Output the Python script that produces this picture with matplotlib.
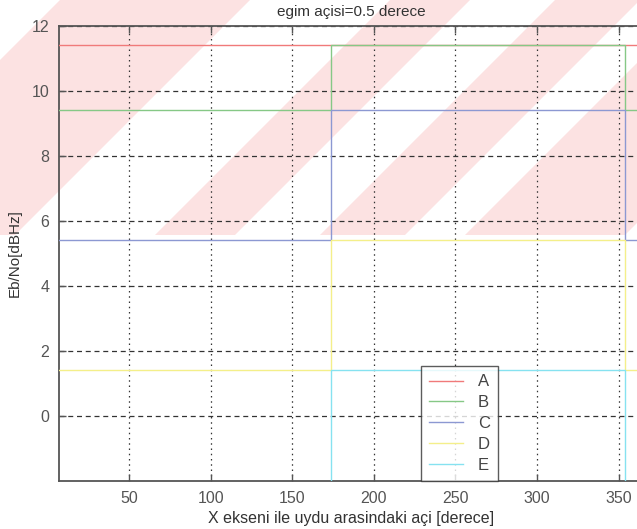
import matplotlib
matplotlib.use("Agg")
import matplotlib.pyplot as plt
from matplotlib.patches import Polygon, Rectangle

plt.rcParams['font.family'] = ['Liberation Sans', 'DejaVu Sans']

# Satellite angle ranges (degrees) where the level changes
x_first = 7.0
step_up = 173.6
step_down = 353.9
x_last = 365.0

series_names = ["A", "B", "C", "D", "E"]
level_outside = [11.43, 9.43, 5.43, 1.43, -2.57]   # Eb/No outside the step window
level_inside = [11.43, 11.43, 9.43, 5.43, 1.43]    # Eb/No inside the step window
series_colors = ["#f07a7a", "#86c886", "#8c98d2", "#f4ef8a", "#86e2f0"]

x_ticks = [50, 100, 150, 200, 250, 300, 350]
y_ticks = [0, 2, 4, 6, 8, 10, 12]

W, H = 637, 529
fig = plt.figure(figsize=(W / 100, H / 100), dpi=100)

# Background layer in page pixels: the light red diagonal stamp across the top
bg = fig.add_axes([0, 0, 1, 1], zorder=-5)
bg.set_xlim(0, W)
bg.set_ylim(H, 0)
bg.axis("off")
stamp_bottom = 235
stamp_bands = [(60, 250), (390, 470), (555, 640), (700, 860)]
clip = Rectangle((0, 0), W, stamp_bottom, transform=bg.transData)
for a, b in stamp_bands:
    p = Polygon([(a, 0), (b, 0), (b - 900, 900), (a - 900, 900)],
                closed=True, facecolor="#fce2e2", edgecolor="none")
    bg.add_patch(p)
    p.set_clip_path(clip)

ax = fig.add_axes([59 / W, 1 - 481 / H, (643 - 59) / W, (481 - 26) / H], zorder=1)
ax.set_facecolor("none")

for name, lo, hi, col in zip(series_names, level_outside, level_inside, series_colors):
    xs = [x_first, step_up, step_up, step_down, step_down, x_last]
    ys = [lo, lo, hi, hi, lo, lo]
    ax.plot(xs, ys, color=col, lw=1.0, label=name, zorder=3)

ax.set_xlim(x_first, x_last)
ax.set_ylim(-2, 12)
ax.set_xticks(x_ticks)
ax.set_yticks(y_ticks)

ax.grid(False)
for xv in x_ticks:
    ax.axvline(xv, color="#333333", lw=0.9, ls=(0, (1.2, 3.0)), zorder=1)
for yv in y_ticks:
    ax.axhline(yv, color="#333333", lw=0.9, ls=(0, (4, 3)), zorder=1)

ax.tick_params(direction="in", length=5, width=1.0, colors="#555555",
               labelsize=11.5, top=True, right=False, pad=7)
for s in ax.spines.values():
    s.set_color("#555555")
    s.set_linewidth(1.3)

ax.set_title("egim açisi=0.5 derece", fontsize=11, color="#333333", pad=7)
ax.set_xlabel("X ekseni ile uydu arasindaki açi [derece]", fontsize=11.5,
              color="#333333", labelpad=4)
ax.set_ylabel("Eb/No[dBHz]", fontsize=11, color="#333333", labelpad=7)

leg = ax.legend(loc="lower left", bbox_to_anchor=((421 - 59) / 584, 0.0),
                frameon=True, fancybox=False, fontsize=12, handlelength=2.0,
                handletextpad=0.9, labelspacing=0.35, borderpad=0.5,
                borderaxespad=0.0)
leg.get_frame().set_edgecolor("#333333")
leg.get_frame().set_linewidth(1.0)
for t in leg.get_texts():
    t.set_color("#444444")

fig.savefig("out.png", dpi=100, facecolor="white")
